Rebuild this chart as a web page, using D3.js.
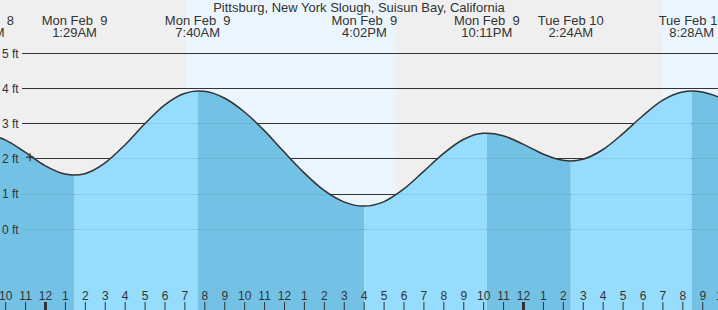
<!DOCTYPE html>
<html>
<head>
<meta charset="utf-8">
<script src="https://cdn.jsdelivr.net/npm/d3@7/dist/d3.min.js"></script>
<style>
  html, body { margin: 0; padding: 0; background: #fff; }
  svg { display: block; }
  text { font-family: "Liberation Sans", Arial, sans-serif; fill: #333; white-space: pre; }
</style>
</head>
<body>
<svg id="chart" width="718" height="310"></svg>
<script>
// ---------- data ----------
const title = "Pittsburg, New York Slough, Suisun Bay, California";

const tideTimes = [
  "2026-02-08 21:00", "2026-02-08 22:00", "2026-02-08 23:00",
  "2026-02-09 00:00", "2026-02-09 01:00", "2026-02-09 01:29", "2026-02-09 02:00",
  "2026-02-09 03:00", "2026-02-09 04:00", "2026-02-09 05:00", "2026-02-09 06:00",
  "2026-02-09 07:00", "2026-02-09 07:40", "2026-02-09 08:00", "2026-02-09 09:00",
  "2026-02-09 10:00", "2026-02-09 11:00", "2026-02-09 12:00", "2026-02-09 13:00",
  "2026-02-09 14:00", "2026-02-09 15:00", "2026-02-09 16:00", "2026-02-09 16:02",
  "2026-02-09 17:00", "2026-02-09 18:00", "2026-02-09 19:00", "2026-02-09 20:00",
  "2026-02-09 21:00", "2026-02-09 22:00", "2026-02-09 22:11", "2026-02-09 23:00",
  "2026-02-10 00:00", "2026-02-10 01:00", "2026-02-10 02:00", "2026-02-10 02:24",
  "2026-02-10 03:00", "2026-02-10 04:00", "2026-02-10 05:00", "2026-02-10 06:00",
  "2026-02-10 07:00", "2026-02-10 08:00", "2026-02-10 08:28", "2026-02-10 09:00",
  "2026-02-10 10:00"
];
const tideHeights = [
  2.71, 2.54, 2.19,
  1.81, 1.57, 1.54, 1.58,
  1.88, 2.39, 2.99, 3.53,
  3.86, 3.93, 3.92, 3.73,
  3.34, 2.81, 2.20, 1.61,
  1.11, 0.78, 0.66, 0.66,
  0.78, 1.14, 1.64, 2.15,
  2.55, 2.73, 2.73, 2.66,
  2.42, 2.14, 1.96, 1.94,
  1.99, 2.26, 2.71, 3.22,
  3.66, 3.90, 3.93, 3.90,
  3.72
];

const extremeTimes = [
  "2026-02-08 20:51", "2026-02-09 01:29", "2026-02-09 07:40", "2026-02-09 16:02",
  "2026-02-09 22:11", "2026-02-10 02:24", "2026-02-10 08:28"
];
const extremeTypes = ["H", "L", "H", "L", "H", "L", "H"];

const daylightStarts = ["2026-02-09 07:02", "2026-02-10 07:00"];
const daylightEnds   = ["2026-02-09 17:37", "2026-02-10 17:39"];

const yTicks = [0, 1, 2, 3, 4, 5];

const hourTickStart = "2026-02-08 22:00";
const hourTickEnd   = "2026-02-10 10:00";

const nowTime = "2026-02-08 23:15";
const nowHeight = 2.05;

// ---------- setup ----------
const W = 718, H = 310;
const parse = d3.timeParse("%Y-%m-%d %H:%M");
const svg = d3.select("#chart");

const x = d3.scaleTime()
  .domain([parse("2026-02-09 00:00"), parse("2026-02-10 00:00")])
  .range([45, 523]);
const y = d3.scaleLinear().domain([0, 5]).range([229.3, 53.3]);

const rightTime = x.invert(W);

const tide = tideTimes.map((t, i) => ({ t: parse(t), h: tideHeights[i] }));

// ---------- background (night / day) ----------
svg.append("rect").attr("x", 0).attr("y", 0).attr("width", W).attr("height", H).attr("fill", "#efefef");
daylightStarts.forEach((s, i) => {
  const x0 = Math.max(0, x(parse(s)));
  const x1 = Math.min(W, x(parse(daylightEnds[i])));
  if (x1 > x0) {
    svg.append("rect").attr("x", x0).attr("y", 0).attr("width", x1 - x0).attr("height", H)
      .attr("fill", "#eaf5fe");
  }
});

// ---------- gridlines (above water, dark) ----------
const gridX0 = 22;
svg.append("g").selectAll("line").data(yTicks).join("line")
  .attr("x1", gridX0).attr("x2", W)
  .attr("y1", d => y(d)).attr("y2", d => y(d))
  .attr("stroke", "#333").attr("stroke-width", 1).attr("shape-rendering", "crispEdges");

// ---------- water ----------
const area = d3.area()
  .x(d => x(d.t)).y0(H).y1(d => y(d.h))
  .curve(d3.curveMonotoneX);
const line = d3.line()
  .x(d => x(d.t)).y(d => y(d.h))
  .curve(d3.curveMonotoneX);

svg.append("clipPath").attr("id", "waterClip")
  .append("path").attr("d", area(tide));

const water = svg.append("g").attr("clip-path", "url(#waterClip)");

const bounds = extremeTimes.map(parse);
const segs = [];
for (let i = 0; i < bounds.length; i++) {
  const start = bounds[i];
  const end = i + 1 < bounds.length ? bounds[i + 1] : rightTime;
  segs.push({ start, end, falling: extremeTypes[i] === "H" });
}
water.selectAll("rect").data(segs).join("rect")
  .attr("x", d => x(d.start))
  .attr("width", d => x(d.end) - x(d.start))
  .attr("y", 0).attr("height", H)
  .attr("fill", d => d.falling ? "#73c2e6" : "#96dcfc");

// faint gridlines under water
water.append("g").selectAll("line").data(yTicks).join("line")
  .attr("x1", gridX0).attr("x2", W)
  .attr("y1", d => y(d)).attr("y2", d => y(d))
  .attr("stroke", "#000").attr("stroke-opacity", 0.07).attr("stroke-width", 1)
  .attr("shape-rendering", "crispEdges");

// tide curve
svg.append("path").attr("d", line(tide))
  .attr("fill", "none").attr("stroke", "#333").attr("stroke-width", 1.5);

// current time marker
const nx = x(parse(nowTime)), ny = y(nowHeight);
svg.append("path")
  .attr("d", `M${nx - 4},${ny}H${nx + 4}M${nx},${ny - 4}V${ny + 4}`)
  .attr("stroke", "#333").attr("stroke-width", 1.2).attr("fill", "none");

// ---------- y labels ----------
svg.append("g").selectAll("text").data(yTicks).join("text")
  .attr("x", 2).attr("y", d => y(d) + 4.3)
  .attr("font-size", 12)
  .text(d => `${d} ft`);

// ---------- title ----------
svg.append("text").attr("x", 359).attr("y", 11.5)
  .attr("text-anchor", "middle").attr("font-size", 13)
  .text(title);

// ---------- extreme labels ----------
const fmtDay = d3.timeFormat("%a %b %e");
const fmtTime = d3.timeFormat("%-I:%M%p");
const lab = svg.append("g").selectAll("g").data(bounds).join("g")
  .attr("transform", d => `translate(${x(d)},0)`);
lab.append("text").attr("y", 24.5).attr("text-anchor", "middle").attr("font-size", 13)
  .text(d => fmtDay(d));
lab.append("text").attr("y", 36.5).attr("text-anchor", "middle").attr("font-size", 13)
  .text(d => fmtTime(d));

// ---------- bottom hour axis ----------
const hours = d3.timeHour.range(parse(hourTickStart), d3.timeHour.offset(parse(hourTickEnd), 1));
const axis = d3.axisTop(x).tickValues(hours).tickSize(8).tickPadding(2)
  .tickFormat(d3.timeFormat("%-I"));
const gAxis = svg.append("g").attr("transform", `translate(0,${H})`).call(axis);
gAxis.select(".domain").remove();
gAxis.selectAll(".tick line")
  .attr("stroke", "#333")
  .attr("stroke-width", d => d.getHours() === 0 ? 3 : 1);
gAxis.selectAll(".tick text")
  .attr("font-size", 12)
  .attr("font-family", "'Liberation Sans', Arial, sans-serif")
  .attr("fill", "#333");
</script>
</body>
</html>
